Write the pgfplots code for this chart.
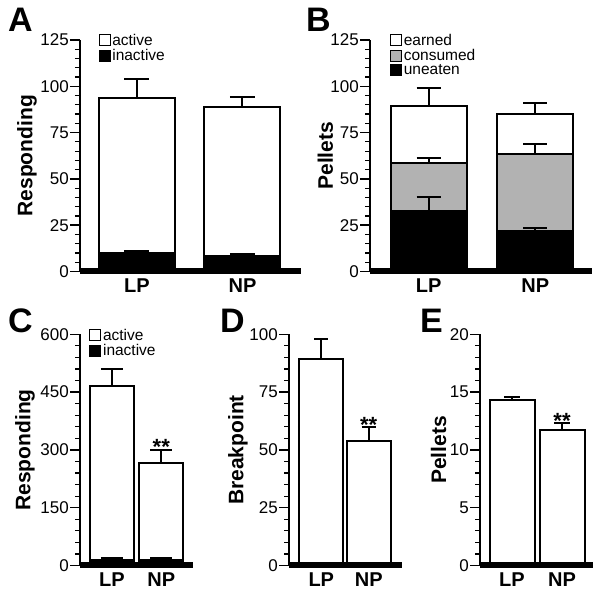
\documentclass[border=0pt]{standalone}
\usepackage{pgfplots}
\pgfplotsset{compat=1.18}
\usepackage{fontspec}
\setmainfont{Liberation Sans}

\newcommand{\fs}[1]{\fontsize{#1}{#1}\selectfont}

\pgfplotsset{
  panel/.style={
    scale only axis, axis on top, clip=false,
    axis x line=bottom, axis y line=left,
    x axis line style={-, line width=6pt},
    y axis line style={-, line width=2.5pt},
    xtick={1,2}, xticklabels={LP,NP},
    xtick style={draw=none},
    ymin=0,
    tick align=outside,
    major tick length=10pt, minor tick length=5pt,
    minor y tick num=4,
    ytick style={line width=1.5pt, black},
    minor y tick style={line width=1.2pt},
    yticklabel style={font=\fs{17}, inner sep=1pt},
    xticklabel style={font=\bfseries\fs{20}, inner sep=4pt, yshift=7pt},
    /pgf/number format/assume math mode=true,
    ylabel style={font=\bfseries\fs{21}, anchor=south, inner sep=0pt},
    legend style={draw=none, fill=none, anchor=north west,
      inner sep=0pt, row sep=1pt, column sep=1pt, legend cell align=left,
      nodes={inner sep=0.8pt, font=\fs{15.5}}},
    legend image code/.code={\draw[#1, line width=1pt] (0pt,-5.5pt) rectangle (11pt,5.5pt);},
    error bars/y dir=plus, error bars/y explicit,
    error bars/error mark=|,
    error bars/error bar style={line width=2pt, black},
  },
  bar/.style={ybar, bar shift=0pt, draw=black, line width=2pt},
}

\begin{document}
\begin{tikzpicture}

% A
\begin{axis}[panel, at={(80pt,324.5pt)}, anchor=south west,
  width=220.7pt, height=231.5pt,
  xmin=0.46, xmax=2.552, ymax=125, ytick={0,25,...,125},
  bar width=0.72,
  error bars/error mark options={line width=2pt, mark size=12.5pt, black},
  ylabel={Responding}, ylabel style={at={(axis description cs:-0.195,0.5)}},
  legend style={at={(axis description cs:0.083,1.03)}}]
\addplot[bar, fill=white] coordinates {(1,93.8) +- (0,10.4) (2,88.6) +- (0,5.7)};
\addlegendentry{active}
\addplot[bar, fill=black] coordinates {(1,9.9) +- (0,1.4) (2,8.5) +- (0,1.0)};
\addlegendentry{inactive}
\end{axis}

% B
\begin{axis}[panel, at={(370pt,324.5pt)}, anchor=south west,
  width=222.3pt, height=231.5pt,
  xmin=0.449, xmax=2.535, ymax=125, ytick={0,25,...,125},
  bar width=0.713,
  error bars/error mark options={line width=2pt, mark size=12pt, black},
  ylabel={Pellets}, ylabel style={at={(axis description cs:-0.165,0.5)}},
  legend style={at={(axis description cs:0.089,1.03)}}]
\addplot[bar, fill=white] coordinates {(1,89.3) +- (0,9.9) (2,85.0) +- (0,6.1)};
\addlegendentry{earned}
\addplot[bar, fill=black!30] coordinates {(1,58.4) +- (0,2.7) (2,63.4) +- (0,5.3)};
\addlegendentry{consumed}
\addplot[bar, fill=black] coordinates {(1,32.7) +- (0,7.7) (2,21.6) +- (0,2.1)};
\addlegendentry{uneaten}
\end{axis}

% C
\begin{axis}[panel, at={(80pt,30.5pt)}, anchor=south west,
  width=113.3pt, height=231.2pt,
  xmin=0.351, xmax=2.649, ymax=600, ytick={0,150,...,600},
  bar width=0.892,
  error bars/error mark options={line width=2pt, mark size=11pt, black},
  ylabel={Responding}, ylabel style={at={(axis description cs:-0.397,0.5)}},
  legend style={at={(axis description cs:0.08,1.027)}}]
\addplot[bar, fill=white] coordinates {(1,467) +- (0,43) (2,267) +- (0,33)};
\addlegendentry{active}
\addplot[bar, fill=black] coordinates {(1,15) +- (0,5) (2,14) +- (0,5)};
\addlegendentry{inactive}
\node[font=\bfseries\fs{22}, anchor=base, yshift=-4.5pt] at (axis cs:2,300) {**};
\end{axis}

% D
\begin{axis}[panel, at={(289pt,30.5pt)}, anchor=south west,
  width=112.7pt, height=231.2pt,
  xmin=0.319, xmax=2.696, ymax=100, ytick={0,25,...,100},
  bar width=0.93,
  error bars/error mark options={line width=2pt, mark size=7pt, black},
  ylabel={Breakpoint}, ylabel style={at={(axis description cs:-0.364,0.5)}}]
\addplot[bar, fill=white] coordinates {(1,89.3) +- (0,8.5) (2,53.8) +- (0,6.1)};
\node[font=\bfseries\fs{22}, anchor=base, yshift=-5pt] at (axis cs:2,59.9) {**};
\end{axis}

% E
\begin{axis}[panel, at={(480pt,30.5pt)}, anchor=south west,
  width=112.7pt, height=231.2pt,
  xmin=0.36, xmax=2.614, ymax=20, ytick={0,5,...,20},
  bar width=0.9,
  error bars/error mark options={line width=2pt, mark size=8pt, black},
  ylabel={Pellets}, ylabel style={at={(axis description cs:-0.296,0.5)}}]
\addplot[bar, fill=white] coordinates {(1,14.32) +- (0,0.26) (2,11.73) +- (0,0.57)};
\node[font=\bfseries\fs{22}, anchor=base, yshift=-5pt] at (axis cs:2,12.3) {**};
\end{axis}

% panel letters
\begin{scope}[every node/.style={anchor=base west, inner sep=0pt, font=\bfseries\fs{34}}]
\node at (8pt,564pt) {A};
\node at (306pt,564pt) {B};
\node at (8pt,263.5pt) {C};
\node at (220pt,263pt) {D};
\node at (420pt,263pt) {E};
\end{scope}

\pgfresetboundingbox
\path[use as bounding box] (0,0) rectangle (600pt,596pt);
\end{tikzpicture}
\end{document}
